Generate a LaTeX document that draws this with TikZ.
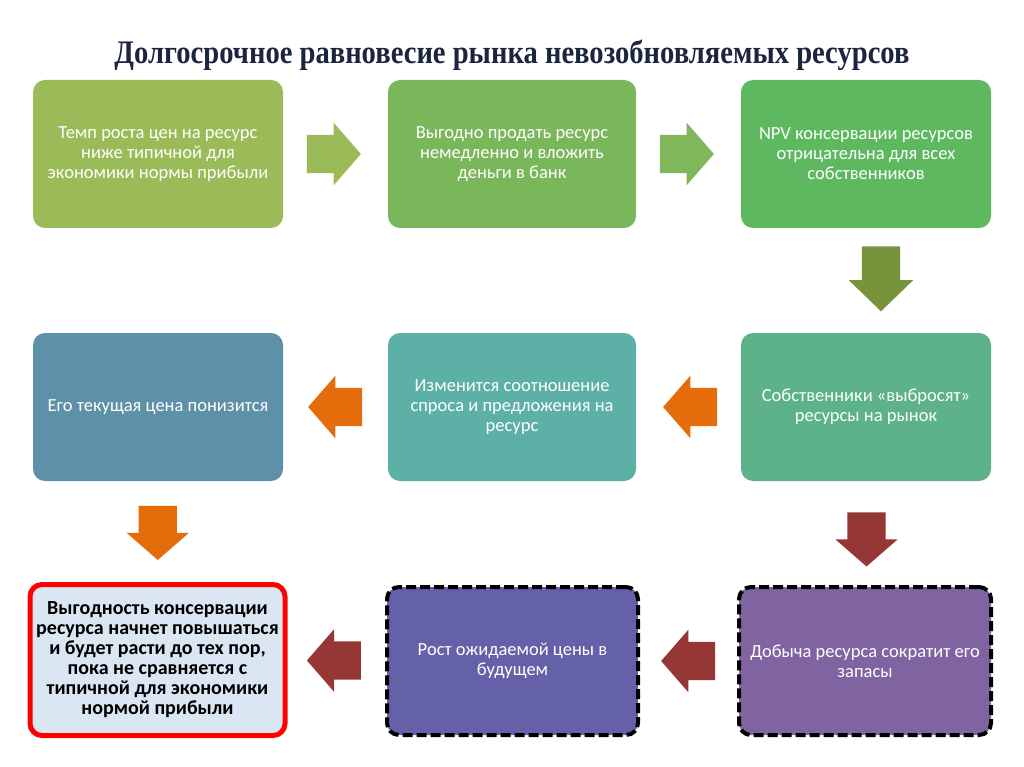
\documentclass[tikz,border=0pt]{standalone}
\usepackage{fontspec}
\setmainfont{Carlito}
\newfontfamily\titlefont{Liberation Serif}
\usetikzlibrary{shapes.arrows, positioning, calc}

\definecolor{olivebox}{HTML}{9BBB59}
\definecolor{grassbox}{HTML}{7AB65A}
\definecolor{greenbox}{HTML}{5DB85F}
\definecolor{steelbox}{HTML}{5E90A8}
\definecolor{tealbox}{HTML}{5DB0A5}
\definecolor{mintbox}{HTML}{5DB289}
\definecolor{indigobox}{HTML}{6561A8}
\definecolor{purplebox}{HTML}{8064A2}
\definecolor{iceblue}{HTML}{DAE7F3}
\definecolor{darkolive}{HTML}{77933C}
\definecolor{orangearr}{HTML}{E46C0A}
\definecolor{brickarr}{HTML}{953735}
\definecolor{titlenavy}{HTML}{1C2540}

\begin{document}
\begin{tikzpicture}[
  x=1pt, y=-1pt,
  box/.style = {
    rectangle, draw=none, rounded corners=12pt,
    minimum width=250pt, minimum height=148pt, align=center,
    text=white, font=\fontsize{18.5}{20}\selectfont
  },
  dashbox/.style = {
    box, draw=black, line width=4pt, dash pattern=on 10pt off 4pt,
    minimum width=251pt, minimum height=148pt
  },
  goalbox/.style = {
    box, draw=red, line width=5pt, fill=iceblue, text=black,
    minimum width=255pt, minimum height=151pt,
    font=\fontsize{20}{20}\selectfont\bfseries
  },
  blockarrow/.style = {
    single arrow, draw=none, inner xsep=0pt, inner ysep=19pt,
    single arrow head extend=12pt, single arrow tip angle=98,
    minimum height=54pt
  },
  downarrow/.style = {
    blockarrow, shape border rotate=270, inner xsep=19pt, inner ysep=0pt
  }
]
  \useasboundingbox[fill=white] (0,0) rectangle (1024,767);

  % Заголовок
  \node[font=\titlefont\fontsize{28.6}{32}\selectfont\bfseries, text=titlenavy] (title) at (512,55)
    {\scalebox{1}[1.15]{Долгосрочное равновесие рынка невозобновляемых ресурсов}};

  % Первый ряд
  \node[box, fill=olivebox] (b11) at (158,154)
    {Темп роста цен на ресурс\\ниже типичной для\\экономики нормы прибыли};
  \node[box, fill=grassbox, minimum width=248pt] (b12) at (512,154)
    {Выгодно продать ресурс\\немедленно и вложить\\деньги в банк};
  \node[box, fill=greenbox] (b13) at (866,154)
    {NPV консервации ресурсов\\отрицательна для всех\\собственников};

  % Второй ряд
  \node[box, fill=steelbox] (b21) at (158,407)
    {Его текущая цена понизится};
  \node[box, fill=tealbox, minimum width=248pt] (b22) at (512,407)
    {Изменится соотношение\\спроса и предложения на\\ресурс};
  \node[box, fill=mintbox] (b23) at (866,407)
    {Собственники «выбросят»\\ресурсы на рынок};

  % Третий ряд
  \node[goalbox] (b31) at (157.5,660)
    {Выгодность консервации\\ресурса начнет повышаться\\и будет расти до тех пор,\\пока не сравняется с\\типичной для экономики\\нормой прибыли};
  \node[dashbox, fill=indigobox] (b32) at (512.5,661)
    {Рост ожидаемой цены в\\будущем};
  \node[dashbox, fill=purplebox, minimum width=252pt] (b33) at (865,661)
    {Добыча ресурса сократит его\\запасы};

  % Стрелки первого ряда
  \node[blockarrow, fill=olivebox] (a1) at ($(b11.east)!0.5!(b12.west)+(-10,0)$) {};
  \node[blockarrow, fill=grassbox!85!olivebox] (a2) at ($(b12.east)!0.5!(b13.west)+(-10,0)$) {};
  \node[downarrow, fill=darkolive, minimum height=65pt, single arrow head extend=13pt,
    single arrow tip angle=92] (a3) at ($(b13.south)!0.5!(b23.north)+(15,-11)$) {};

  % Стрелки второго ряда
  \node[blockarrow, fill=orangearr, shape border rotate=180] (a4) at ($(b23.west)!0.5!(b22.east)+(10,0)$) {};
  \node[blockarrow, fill=orangearr, shape border rotate=180] (a5) at ($(b22.west)!0.5!(b21.east)+(8,0)$) {};
  \node[downarrow, fill=orangearr] (a6) at ($(b21.south)!0.5!(b31.north)+(0,-7)$) {};
  \node[downarrow, fill=brickarr] (a7) at ($(b23.south)!0.5!(b33.north)+(1,-2)$) {};

  % Стрелки третьего ряда
  \node[blockarrow, fill=brickarr, shape border rotate=180] (a8) at ($(b33.west)!0.5!(b32.east)+(8,0)$) {};
  \node[blockarrow, fill=brickarr, shape border rotate=180] (a9) at ($(b32.west)!0.5!(b31.east)+(6,0)$) {};

\end{tikzpicture}
\end{document}
